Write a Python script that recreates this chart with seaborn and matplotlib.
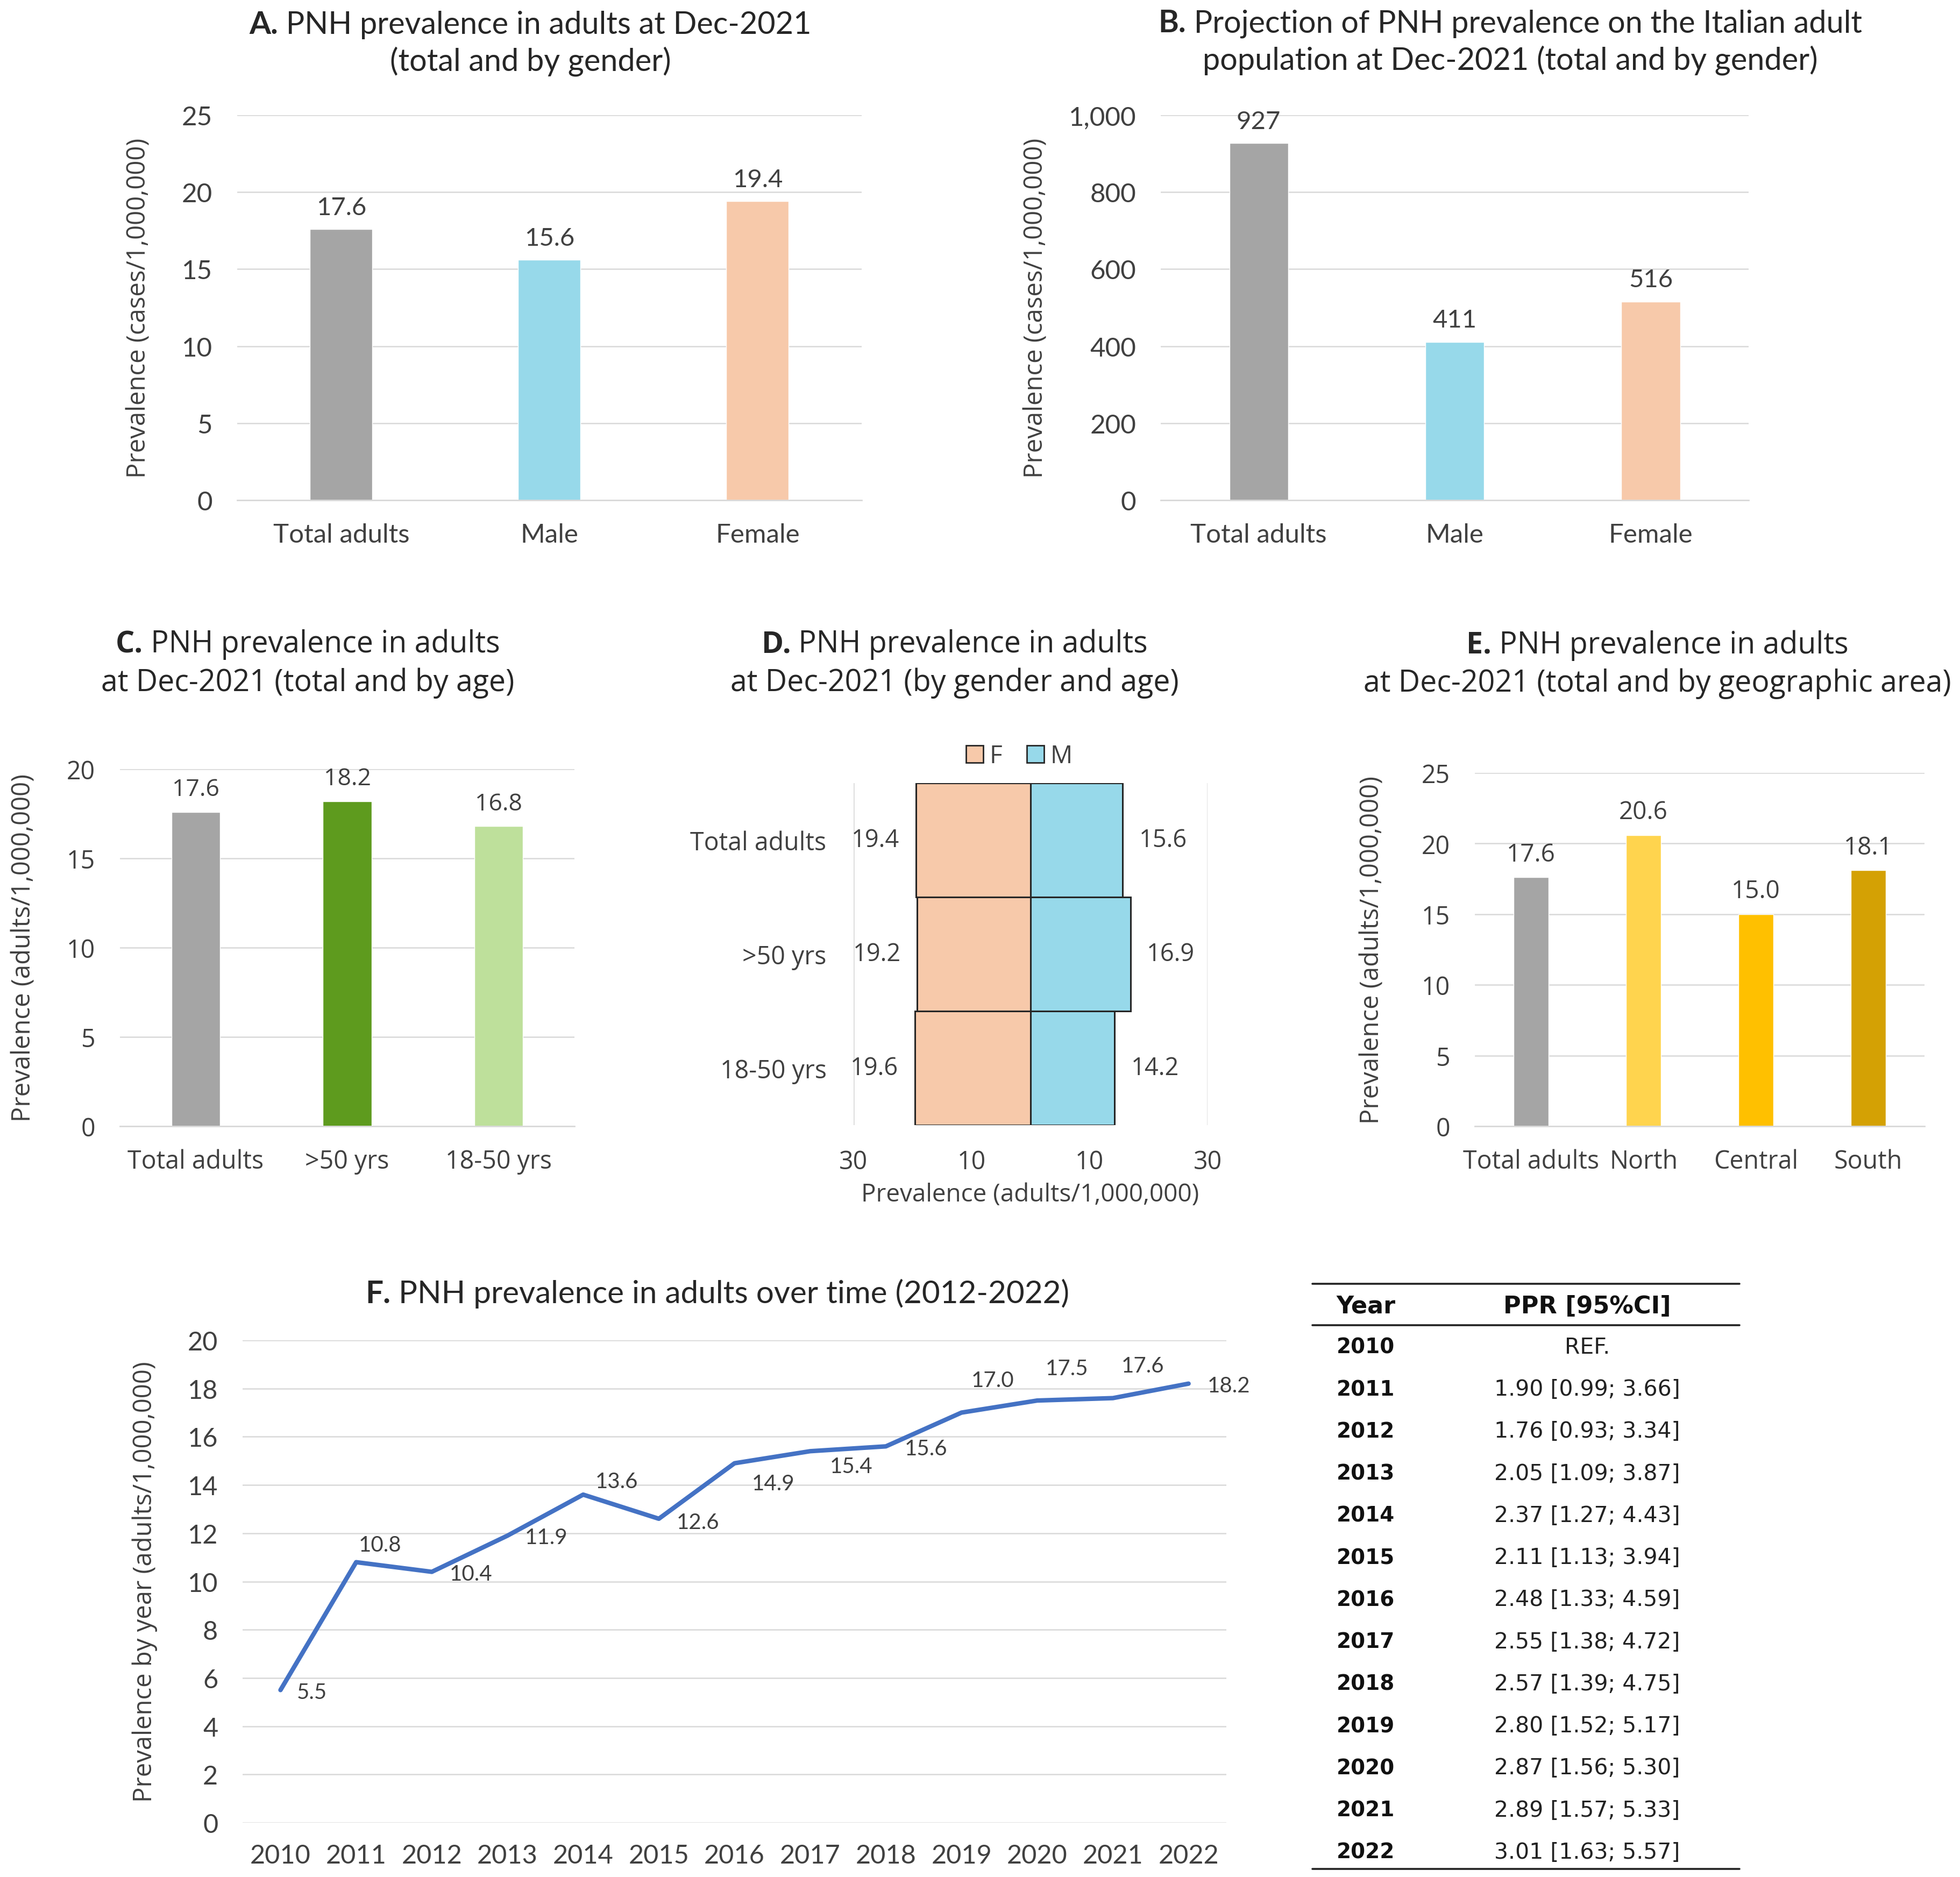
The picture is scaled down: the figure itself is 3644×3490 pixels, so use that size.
import matplotlib
matplotlib.use("Agg")
import matplotlib.pyplot as plt
import seaborn as sns
from matplotlib.patches import Patch
from matplotlib.lines import Line2D
from matplotlib.ticker import FuncFormatter
from matplotlib.offsetbox import TextArea, HPacker, VPacker, AnchoredOffsetbox

# ---- data ----
gender_cats = ["Total adults", "Male", "Female"]
gender_prev = [17.6, 15.6, 19.4]
gender_proj = [927, 411, 516]

age_cats = ["Total adults", ">50 yrs", "18-50 yrs"]
age_prev = [17.6, 18.2, 16.8]

pyr_cats = ["Total adults", ">50 yrs", "18-50 yrs"]
pyr_female = [19.4, 19.2, 19.6]
pyr_male = [15.6, 16.9, 14.2]

area_cats = ["Total adults", "North", "Central", "South"]
area_prev = [17.6, 20.6, 15.0, 18.1]

years = [2010, 2011, 2012, 2013, 2014, 2015, 2016, 2017, 2018, 2019, 2020, 2021, 2022]
year_prev = [5.5, 10.8, 10.4, 11.9, 13.6, 12.6, 14.9, 15.4, 15.6, 17.0, 17.5, 17.6, 18.2]

table_years = ["2010", "2011", "2012", "2013", "2014", "2015", "2016",
               "2017", "2018", "2019", "2020", "2021", "2022"]
table_ppr = ["REF.", "1.90 [0.99; 3.66]", "1.76 [0.93; 3.34]", "2.05 [1.09; 3.87]",
             "2.37 [1.27; 4.43]", "2.11 [1.13; 3.94]", "2.48 [1.33; 4.59]",
             "2.55 [1.38; 4.72]", "2.57 [1.39; 4.75]", "2.80 [1.52; 5.17]",
             "2.87 [1.56; 5.30]", "2.89 [1.57; 5.33]", "3.01 [1.63; 5.57]"]

# label offsets (points) for the line chart labels
f_label_offsets = [(42, -3), (32, 23), (52, -3), (52, -2), (45, 18), (52, -5), (52, -27),
                   (55, -20), (54, -3), (42, 43), (40, 43), (40, 43), (54, -3)]

# ---- style ----
GREY = "#A5A5A5"
BLUE = "#97D9EA"
PEACH = "#F7C9AA"
DGREEN = "#5E9B1E"
LGREEN = "#BEE09B"
NORTH = "#FFD44E"
CENTRAL = "#FFC000"
SOUTH = "#D4A104"
LINE_BLUE = "#4472C4"
GRID = "#D9D9D9"
TXT = "#404040"

NARROW = "Lato"
WIDE = "Open Sans"

sns.set_theme(style="white")
plt.rcParams["font.family"] = ["Open Sans", "DejaVu Sans"]
plt.rcParams["text.color"] = TXT
plt.rcParams["axes.labelcolor"] = TXT
plt.rcParams["xtick.color"] = TXT
plt.rcParams["ytick.color"] = TXT

fig = plt.figure(figsize=(36.44, 34.91), dpi=100)


def panel_title(x, y, letter, line1, line2=None, family=WIDE, size=40):
    props = dict(family=family, size=size, color="#262626")
    head = HPacker(children=[TextArea(letter, textprops=dict(props, weight="bold")),
                             TextArea(" " + line1, textprops=props)],
                   pad=0, sep=0, align="baseline")
    rows = [head]
    if line2:
        rows.append(TextArea(line2, textprops=props))
    box = VPacker(children=rows, align="center", pad=0, sep=10)
    fig.add_artist(AnchoredOffsetbox(loc="center", child=box, pad=0, borderpad=0,
                                     frameon=False, bbox_to_anchor=(x, y),
                                     bbox_transform=fig.transFigure))


def style_axes(ax, family, tick_size):
    sns.despine(ax=ax, left=True, top=True, right=True, bottom=False)
    ax.spines["bottom"].set_color(GRID)
    ax.spines["bottom"].set_linewidth(2)
    ax.grid(axis="y", color=GRID, linewidth=1.8)
    ax.set_axisbelow(True)
    ax.tick_params(axis="both", length=0, labelsize=tick_size)
    ax.tick_params(axis="y", pad=33)
    ax.tick_params(axis="x", pad=30)
    for lab in ax.get_xticklabels() + ax.get_yticklabels():
        lab.set_family(family)


def bar_panel(rect, cats, vals, colors, ymax, step, ylabel, ylab_x, family,
              tick_size, label_size, width, fmt="{:.1f}"):
    ax = fig.add_axes(rect)
    sns.barplot(x=cats, y=vals, hue=cats, palette=colors, width=width,
                saturation=1, legend=False, ax=ax)
    ax.set_ylim(0, ymax)
    ax.set_yticks(range(0, ymax + 1, step))
    ax.set_xlim(-0.5, len(cats) - 0.5)
    ax.set_xlabel("")
    style_axes(ax, family, tick_size)
    for c in ax.containers:
        ax.bar_label(c, fmt=fmt, padding=14, fontsize=label_size, family=family, color=TXT)
    ax.set_ylabel(ylabel, fontsize=34, family=WIDE)
    ax.yaxis.set_label_coords(ylab_x, rect[1] + rect[3] / 2, transform=fig.transFigure)
    return ax


# A
bar_panel([0.1210, 0.7333, 0.3186, 0.2051], gender_cats, gender_prev, [GREY, BLUE, PEACH],
          25, 5, "Prevalence (cases/1,000,000)", 0.0772, NARROW, 35.5, 34, 0.30)
panel_title(0.2706, 0.9768, "A.", "PNH prevalence in adults at Dec-2021",
            "(total and by gender)", family=NARROW, size=41.5)

# B
axb = bar_panel([0.5922, 0.7333, 0.3000, 0.2051], gender_cats, gender_proj, [GREY, BLUE, PEACH],
                1000, 200, "Prevalence (cases/1,000,000)", 0.5350, NARROW, 35.5, 34, 0.30,
                fmt="{:,.0f}")
axb.yaxis.set_major_formatter(FuncFormatter(lambda v, p: f"{v:,.0f}"))
panel_title(0.7706, 0.9774, "B.", "Projection of PNH prevalence on the Italian adult",
            "population at Dec-2021 (total and by gender)", family=NARROW, size=41.5)

# C
bar_panel([0.0612, 0.3999, 0.2319, 0.1902], age_cats, age_prev, [GREY, DGREEN, LGREEN],
          20, 5, "Prevalence (adults/1,000,000)", 0.0185, WIDE, 33.5, 32, 0.32)
panel_title(0.157, 0.6464, "C.", "PNH prevalence in adults",
            "at Dec-2021 (total and by age)", family=WIDE, size=40)

# D - population pyramid
axd = fig.add_axes([0.4354, 0.4005, 0.1808, 0.1821])
sns.barplot(x=[-v for v in pyr_female], y=pyr_cats, orient="h", color=PEACH, width=1,
            saturation=1, edgecolor="#262626", linewidth=2.2, ax=axd)
sns.barplot(x=pyr_male, y=pyr_cats, orient="h", color=BLUE, width=1,
            saturation=1, edgecolor="#262626", linewidth=2.2, ax=axd)
axd.set_xlim(-30, 30)
axd.set_xticks([-30, -10, 10, 30])
axd.xaxis.set_major_formatter(FuncFormatter(lambda v, p: f"{abs(v):.0f}"))
sns.despine(ax=axd, left=True, bottom=True)
axd.grid(axis="x", color=GRID, linewidth=1.8)
axd.grid(axis="y", visible=False)
axd.set_axisbelow(True)
axd.tick_params(axis="both", length=0, labelsize=33.5)
axd.tick_params(axis="y", pad=36)
axd.tick_params(axis="x", pad=32)
axd.bar_label(axd.containers[0], labels=[f"{v:.1f}" for v in pyr_female], padding=22,
              fontsize=32.5, color=TXT)
axd.bar_label(axd.containers[1], labels=[f"{v:.1f}" for v in pyr_male], padding=22,
              fontsize=32.5, color=TXT)
axd.set_ylabel("")
axd.set_xlabel("Prevalence (adults/1,000,000)", fontsize=33)
axd.xaxis.set_label_coords(0.5256, 0.3700, transform=fig.transFigure)
handles = [Patch(facecolor=PEACH, edgecolor="#262626", linewidth=2, label="F"),
           Patch(facecolor=BLUE, edgecolor="#262626", linewidth=2, label="M")]
fig.legend(handles=handles, loc="center", bbox_to_anchor=(0.520, 0.597), ncol=2,
           frameon=False, fontsize=33, handlelength=0.7, handleheight=0.7,
           handletextpad=0.25, columnspacing=1.0)
panel_title(0.487, 0.6464, "D.", "PNH prevalence in adults",
            "at Dec-2021 (by gender and age)", family=WIDE, size=40)

# E
axe = bar_panel([0.7525, 0.3999, 0.2294, 0.1882], area_cats, area_prev,
                [GREY, NORTH, CENTRAL, SOUTH], 25, 5, "Prevalence (adults/1,000,000)",
                0.7066, WIDE, 33.5, 33, 0.31)
axe.set_xticks([i - 0.5 for i in range(len(area_cats) + 1)], minor=True)
axe.tick_params(axis="x", which="minor", length=11, width=2, color=GRID, direction="out")
panel_title(0.8457, 0.646, "E.", "PNH prevalence in adults",
            "at Dec-2021 (total and by geographic area)", family=WIDE, size=40)

# F - line over time
axf = fig.add_axes([0.1238, 0.0289, 0.5019, 0.2570])
sns.lineplot(x=years, y=year_prev, color=LINE_BLUE, linewidth=6, ax=axf)
axf.set_xlim(years[0] - 0.5, years[-1] + 0.5)
axf.set_xticks(years)
axf.set_ylim(0, 20)
axf.set_yticks(range(0, 21, 2))
sns.despine(ax=axf, left=True, bottom=True)
axf.grid(axis="y", color=GRID, linewidth=1.8)
axf.grid(axis="x", visible=False)
axf.set_axisbelow(True)
axf.tick_params(axis="both", length=0, labelsize=35)
axf.tick_params(axis="y", pad=33)
axf.tick_params(axis="x", pad=28)
for lab in axf.get_xticklabels() + axf.get_yticklabels():
    lab.set_family(NARROW)
for yr, v, off in zip(years, year_prev, f_label_offsets):
    axf.annotate(f"{v:.1f}", (yr, v), xytext=off, textcoords="offset points",
                 ha="center", va="center", fontsize=29, family=NARROW, color=TXT)
axf.set_ylabel("Prevalence by year (adults/1,000,000)", fontsize=34)
axf.yaxis.set_label_coords(0.0804, 0.0289 + 0.2570 / 2, transform=fig.transFigure)
panel_title(0.366, 0.311, "F.", "PNH prevalence in adults over time (2012-2022)",
            family=NARROW, size=42)

# table of PPR
tx0, tx1 = 0.6696, 0.8875
for ly in (0.3160, 0.2939, 0.0043):
    fig.add_artist(Line2D([tx0, tx1], [ly, ly], transform=fig.transFigure,
                          color="#222222", linewidth=2.6))
fig.text(0.6819, 0.3042, "Year", ha="left", va="center", fontsize=32,
         family="DejaVu Sans", weight="bold", color="#111111")
fig.text(0.8098, 0.3042, "PPR [95%CI]", ha="center", va="center", fontsize=32,
         family="DejaVu Sans", weight="bold", color="#111111")
for i, (yr, ppr) in enumerate(zip(table_years, table_ppr)):
    ry = 1 - (2506 + 78.25 * i) / 3491
    fig.text(0.6819, ry, yr, ha="left", va="center", fontsize=28,
             family="DejaVu Sans", weight="bold", color="#111111")
    fig.text(0.8098, ry, ppr, ha="center", va="center", fontsize=29.5,
             family="DejaVu Sans", color="#222222")

fig.savefig("out.png", dpi=100, facecolor="white")
